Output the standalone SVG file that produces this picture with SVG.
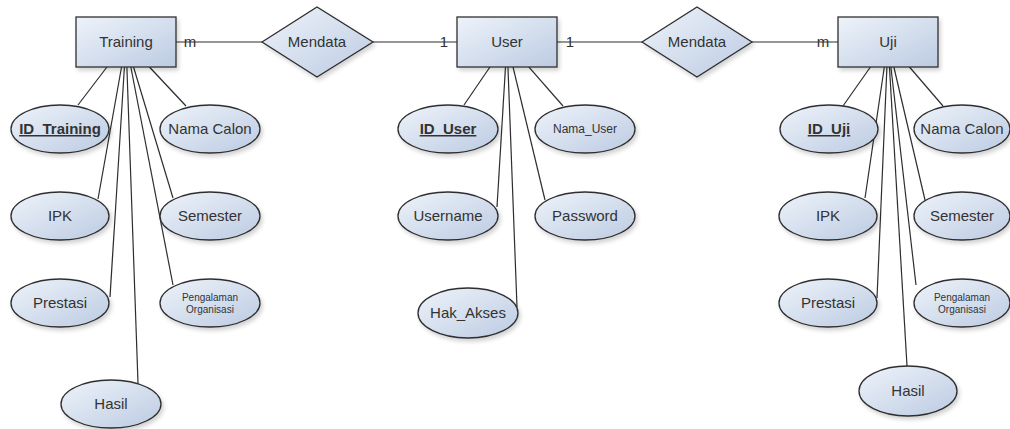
<svg xmlns="http://www.w3.org/2000/svg" width="1010" height="429" viewBox="0 0 1010 429">
  <defs>
    <linearGradient id="fillGrad" x1="0" y1="0" x2="1" y2="1">
      <stop offset="0" stop-color="#eef3fa"/>
      <stop offset="1" stop-color="#bccbe2"/>
    </linearGradient>
    <filter id="shadow" x="-10%" y="-10%" width="130%" height="140%">
      <feGaussianBlur in="SourceAlpha" stdDeviation="2"/>
      <feOffset dx="2" dy="3" result="b"/>
      <feComponentTransfer><feFuncA type="linear" slope="0.18"/></feComponentTransfer>
      <feMerge><feMergeNode/><feMergeNode in="SourceGraphic"/></feMerge>
    </filter>
  </defs>
  <style>
    .shape { fill: url(#fillGrad); stroke: #2e2e2e; stroke-width: 1.3; filter: url(#shadow); }
    .conn line { stroke: #2e2e2e; stroke-width: 1.2; }
    text { font-family: "Liberation Sans", Arial, sans-serif; fill: #333; text-anchor: middle; }
    .lbl { font-size: 15px; }
    .key { font-size: 15px; font-weight: bold; text-decoration: underline; }
    .sm { font-size: 12px; }
    .xs { font-size: 10px; }
    .card { font-size: 15px; }
  </style>
  <rect width="1010" height="429" fill="#ffffff"/>

  <!-- connectors -->
  <g id="connectors" class="conn">
    <!-- relationships -->
    <line x1="176" y1="42" x2="262" y2="42"/>
    <line x1="373" y1="42" x2="457" y2="42"/>
    <line x1="557" y1="42" x2="642" y2="42"/>
    <line x1="752" y1="42" x2="838" y2="42"/>
    <!-- Training attributes -->
    <line x1="126" y1="42" x2="78" y2="105"/>
    <line x1="126" y1="42" x2="186" y2="106"/>
    <line x1="126" y1="42" x2="98" y2="199"/>
    <line x1="126" y1="42" x2="173" y2="198"/>
    <line x1="126" y1="42" x2="110" y2="297"/>
    <line x1="126" y1="42" x2="173" y2="285"/>
    <line x1="126" y1="42" x2="138" y2="383"/>
    <!-- User attributes -->
    <line x1="507" y1="42" x2="464" y2="105"/>
    <line x1="507" y1="42" x2="563" y2="106"/>
    <line x1="507" y1="42" x2="497" y2="207"/>
    <line x1="507" y1="42" x2="545" y2="200"/>
    <line x1="507" y1="42" x2="517" y2="307"/>
    <!-- Uji attributes -->
    <line x1="888" y1="42" x2="843" y2="106"/>
    <line x1="888" y1="42" x2="943" y2="106"/>
    <line x1="888" y1="42" x2="865" y2="198"/>
    <line x1="888" y1="42" x2="925" y2="200"/>
    <line x1="888" y1="42" x2="877" y2="298"/>
    <line x1="888" y1="42" x2="916" y2="285"/>
    <line x1="888" y1="42" x2="907" y2="366"/>
  </g>

  <!-- cardinalities -->
  <g id="cardinalities">
    <text class="card" x="190" y="47">m</text>
    <text class="card" x="444" y="47">1</text>
    <text class="card" x="570" y="47">1</text>
    <text class="card" x="823" y="47">m</text>
  </g>

  <!-- entities -->
  <g id="training">
    <rect class="shape" x="76" y="17" width="100" height="50"/>
    <text class="lbl" x="126" y="47">Training</text>
  </g>
  <g id="user">
    <rect class="shape" x="457" y="17" width="100" height="50"/>
    <text class="lbl" x="507" y="47">User</text>
  </g>
  <g id="uji">
    <rect class="shape" x="838" y="17" width="100" height="50"/>
    <text class="lbl" x="888" y="47">Uji</text>
  </g>

  <!-- relationships -->
  <g id="mendata-training">
    <polygon class="shape" points="262,42 317,7 373,42 317,77"/>
    <text class="lbl" x="317" y="47">Mendata</text>
  </g>
  <g id="mendata-uji">
    <polygon class="shape" points="642,42 697,7 752,42 697,77"/>
    <text class="lbl" x="697" y="47">Mendata</text>
  </g>

  <!-- Training attributes -->
  <g id="training-id">
    <ellipse class="shape" cx="60" cy="129" rx="49" ry="24"/>
    <text class="key" x="60" y="134">ID_Training</text>
  </g>
  <g id="training-nama">
    <ellipse class="shape" cx="210" cy="129" rx="50" ry="24"/>
    <text class="lbl" x="210" y="134">Nama Calon</text>
  </g>
  <g id="training-ipk">
    <ellipse class="shape" cx="60" cy="216" rx="49" ry="24"/>
    <text class="lbl" x="60" y="221">IPK</text>
  </g>
  <g id="training-semester">
    <ellipse class="shape" cx="210" cy="216" rx="50" ry="24"/>
    <text class="lbl" x="210" y="221">Semester</text>
  </g>
  <g id="training-prestasi">
    <ellipse class="shape" cx="60" cy="303" rx="49" ry="24"/>
    <text class="lbl" x="60" y="308">Prestasi</text>
  </g>
  <g id="training-pengalaman">
    <ellipse class="shape" cx="210" cy="303" rx="50" ry="24"/>
    <text class="xs" x="210" y="301">Pengalaman</text>
    <text class="xs" x="210" y="313">Organisasi</text>
  </g>
  <g id="training-hasil">
    <ellipse class="shape" cx="111" cy="404" rx="50" ry="24"/>
    <text class="lbl" x="111" y="409">Hasil</text>
  </g>

  <!-- User attributes -->
  <g id="user-id">
    <ellipse class="shape" cx="448" cy="129" rx="50" ry="24"/>
    <text class="key" x="448" y="134">ID_User</text>
  </g>
  <g id="user-nama">
    <ellipse class="shape" cx="585" cy="129" rx="50" ry="24"/>
    <text class="sm" x="585" y="133">Nama_User</text>
  </g>
  <g id="user-username">
    <ellipse class="shape" cx="448" cy="216" rx="50" ry="24"/>
    <text class="lbl" x="448" y="221">Username</text>
  </g>
  <g id="user-password">
    <ellipse class="shape" cx="585" cy="216" rx="50" ry="24"/>
    <text class="lbl" x="585" y="221">Password</text>
  </g>
  <g id="user-hak">
    <ellipse class="shape" cx="468" cy="313" rx="50" ry="25"/>
    <text class="lbl" x="468" y="318">Hak_Akses</text>
  </g>

  <!-- Uji attributes -->
  <g id="uji-id">
    <ellipse class="shape" cx="829" cy="129" rx="49" ry="24"/>
    <text class="key" x="829" y="134">ID_Uji</text>
  </g>
  <g id="uji-nama">
    <ellipse class="shape" cx="962" cy="129" rx="48" ry="24"/>
    <text class="lbl" x="962" y="134">Nama Calon</text>
  </g>
  <g id="uji-ipk">
    <ellipse class="shape" cx="828" cy="216" rx="49" ry="24"/>
    <text class="lbl" x="828" y="221">IPK</text>
  </g>
  <g id="uji-semester">
    <ellipse class="shape" cx="962" cy="216" rx="48" ry="24"/>
    <text class="lbl" x="962" y="221">Semester</text>
  </g>
  <g id="uji-prestasi">
    <ellipse class="shape" cx="828" cy="303" rx="49" ry="24"/>
    <text class="lbl" x="828" y="308">Prestasi</text>
  </g>
  <g id="uji-pengalaman">
    <ellipse class="shape" cx="962" cy="303" rx="48" ry="24"/>
    <text class="xs" x="962" y="301">Pengalaman</text>
    <text class="xs" x="962" y="313">Organisasi</text>
  </g>
  <g id="uji-hasil">
    <ellipse class="shape" cx="908" cy="391" rx="49" ry="25"/>
    <text class="lbl" x="908" y="396">Hasil</text>
  </g>
</svg>
